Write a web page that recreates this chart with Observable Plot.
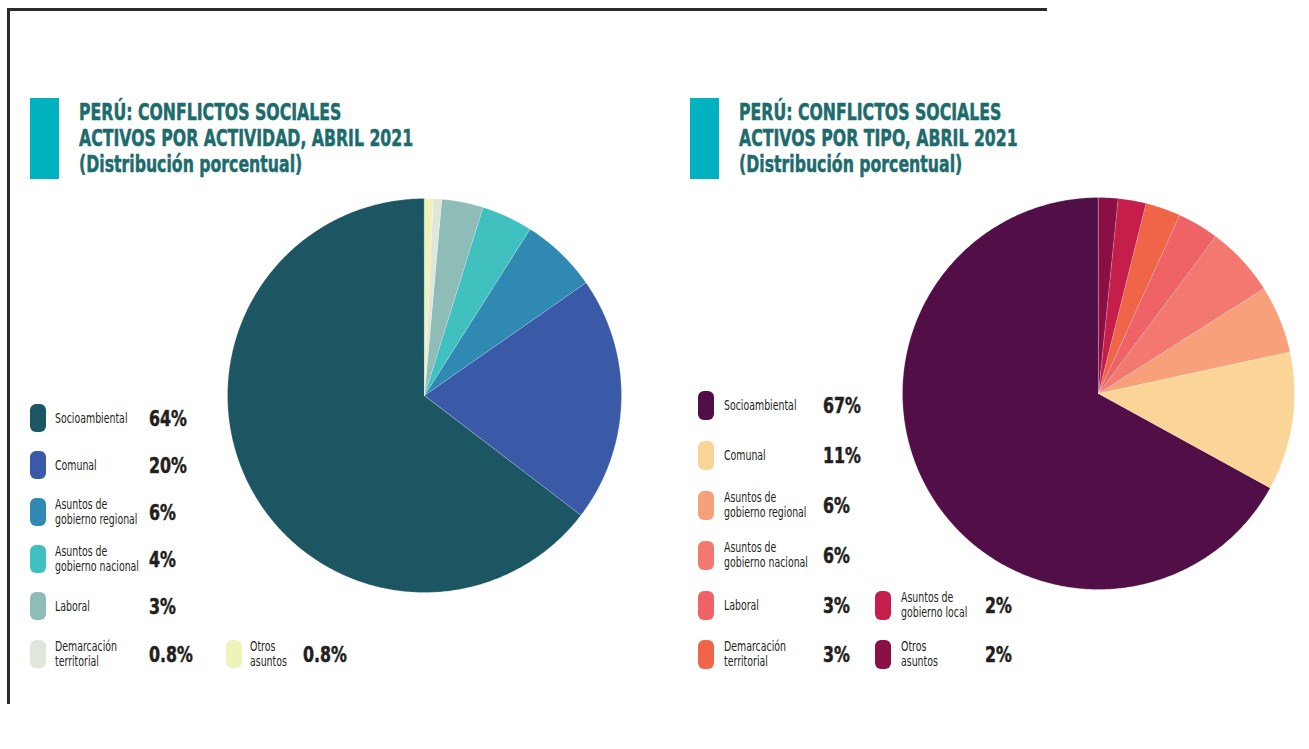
<!DOCTYPE html>
<html>
<head>
<meta charset="utf-8">
<script src="https://cdn.jsdelivr.net/npm/d3@7"></script>
<script src="https://cdn.jsdelivr.net/npm/@observablehq/plot@0.6"></script>
<style>
  html, body { margin: 0; padding: 0; background: #fff; }
  #page { position: relative; width: 1309px; height: 749px; overflow: hidden; font-family: "Liberation Sans Narrow", "DejaVu Sans Condensed", "Roboto", sans-serif; }
  .frame-top { position: absolute; left: 7px; top: 8px; width: 1040px; height: 3px; background: #2b2b2b; }
  .frame-left { position: absolute; left: 7px; top: 8px; width: 3px; height: 696px; background: #2b2b2b; }
  .tbar { position: absolute; width: 29px; height: 81px; background: #00b1bf; }
  .title { position: absolute; color: #1d6b6d; font-weight: bold; font-size: 23px; line-height: 26px; white-space: nowrap; transform: scaleX(0.76); transform-origin: left top; -webkit-text-stroke: 0.5px #1d6b6d; }
  .sw { position: absolute; width: 16px; height: 28px; border-radius: 6px; }
  .lab { position: absolute; color: #231f20; font-size: 14.5px; line-height: 15px; white-space: nowrap; transform: translateY(-50%) scaleX(0.72); transform-origin: left center; }
  .pct { position: absolute; color: #231f20; font-size: 22px; font-weight: bold; white-space: nowrap; transform: translateY(-50%) scaleX(0.8); transform-origin: left center; -webkit-text-stroke: 0.5px #231f20; }
  .pie { position: absolute; }
</style>
</head>
<body>
<div id="page">
  <div class="frame-top"></div>
  <div class="frame-left"></div>
</div>
<script>
// ---------- Data: Por actividad ----------
const actCategories = ["Socioambiental", "Comunal", "Asuntos de gobierno regional", "Asuntos de gobierno nacional", "Laboral", "Demarcación territorial", "Otros asuntos"];
const actLegendNames = ["Socioambiental", "Comunal", "Asuntos de\ngobierno regional", "Asuntos de\ngobierno nacional", "Laboral", "Demarcación\nterritorial", "Otros\nasuntos"];
const actValues = [64.6, 20.1, 6.3, 4.2, 3.4, 0.7, 0.7];
const actLabels = ["64%", "20%", "6%", "4%", "3%", "0.8%", "0.8%"];
const actColors = ["#1c5662", "#3a5aa8", "#2f89b2", "#40c0bf", "#8ebcb7", "#dfe6da", "#eef3b9"];

// ---------- Data: Por tipo ----------
const tipoCategories = ["Socioambiental", "Comunal", "Asuntos de gobierno regional", "Asuntos de gobierno nacional", "Laboral", "Demarcación territorial", "Asuntos de gobierno local", "Otros asuntos"];
const tipoLegendNames = ["Socioambiental", "Comunal", "Asuntos de\ngobierno regional", "Asuntos de\ngobierno nacional", "Laboral", "Demarcación\nterritorial", "Asuntos de\ngobierno local", "Otros\nasuntos"];
const tipoValues = [67.0, 11.4, 5.6, 5.8, 3.4, 2.9, 2.3, 1.6];
const tipoLabels = ["67%", "11%", "6%", "6%", "3%", "3%", "2%", "2%"];
const tipoColors = ["#520f47", "#fbd598", "#f7a07a", "#f27870", "#ef6266", "#f06448", "#c61e4a", "#8a0f45"];

const titleAct = ["PERÚ: CONFLICTOS SOCIALES", "ACTIVOS POR ACTIVIDAD, ABRIL 2021", "(Distribución porcentual)"];
const titleTipo = ["PERÚ: CONFLICTOS SOCIALES", "ACTIVOS POR TIPO, ABRIL 2021", "(Distribución porcentual)"];

const page = document.getElementById("page");

function addTitle(lines, barX, textX, top) {
  const bar = document.createElement("div");
  bar.className = "tbar";
  bar.style.left = barX + "px";
  bar.style.top = top + "px";
  page.appendChild(bar);
  const t = document.createElement("div");
  t.className = "title";
  t.style.left = textX + "px";
  t.style.top = (top + 1) + "px";
  t.innerHTML = lines.join("<br>");
  page.appendChild(t);
}

function pieRows(categories, values, colors) {
  const arcs = d3.pie().sort(null).startAngle(0).endAngle(-2 * Math.PI)(values);
  const rows = [];
  arcs.forEach((a, i) => {
    const cat = categories[i];
    rows.push({cat, color: colors[i], x: 0, y: 0});
    const n = Math.max(2, Math.ceil(Math.abs(a.endAngle - a.startAngle) / 0.01));
    for (let k = 0; k <= n; k++) {
      const t = a.startAngle + (a.endAngle - a.startAngle) * k / n;
      rows.push({cat, color: colors[i], x: Math.sin(t), y: Math.cos(t)});
    }
  });
  return rows;
}

function addPie(categories, values, colors, size, left, top) {
  const rows = pieRows(categories, values, colors);
  const chart = Plot.plot({
    width: size, height: size, margin: 3,
    x: {domain: [-1, 1], axis: null},
    y: {domain: [-1, 1], axis: null},
    color: {type: "identity"},
    marks: [
      Plot.line(rows, {x: "x", y: "y", z: "cat", fill: "color", stroke: "#ffffff", strokeOpacity: 0.35, strokeWidth: 0.6, curve: "linear-closed"})
    ]
  });
  chart.classList.add("pie");
  chart.style.left = left + "px";
  chart.style.top = top + "px";
  page.appendChild(chart);
}

function addLegendItem(name, label, color, swX, labX, pctX, cy, swH) {
  const sw = document.createElement("div");
  sw.className = "sw";
  sw.style.background = color;
  sw.style.left = swX + "px";
  sw.style.height = swH + "px";
  sw.style.top = (cy - swH / 2) + "px";
  page.appendChild(sw);
  const l = document.createElement("div");
  l.className = "lab";
  l.style.left = labX + "px";
  l.style.top = cy + "px";
  l.innerHTML = name.split("\n").join("<br>");
  page.appendChild(l);
  const p = document.createElement("div");
  p.className = "pct";
  p.style.left = pctX + "px";
  p.style.top = cy + "px";
  p.textContent = label;
  page.appendChild(p);
}

addTitle(titleAct, 30, 79, 98);
addTitle(titleTipo, 690, 739, 98);

addPie(actCategories, actValues, actColors, 400, 224, 195);
addPie(tipoCategories, tipoValues, tipoColors, 398, 899, 194);

// legend: por actividad
const actRowY = [418, 465, 512, 559, 606, 654];
actCategories.forEach((c, i) => {
  if (i < 6) addLegendItem(actLegendNames[i], actLabels[i], actColors[i], 30, 55, 149, actRowY[i], 28);
  else addLegendItem(actLegendNames[i], actLabels[i], actColors[i], 226, 250, 303, actRowY[5], 28);
});

// legend: por tipo
const tipoRowY = [405, 455, 505, 555, 605, 654];
tipoCategories.forEach((c, i) => {
  if (i < 6) addLegendItem(tipoLegendNames[i], tipoLabels[i], tipoColors[i], 698, 724, 823, tipoRowY[i], 29);
  else addLegendItem(tipoLegendNames[i], tipoLabels[i], tipoColors[i], 875, 901, 985, tipoRowY[i - 2], 29);
});
</script>
</body>
</html>
